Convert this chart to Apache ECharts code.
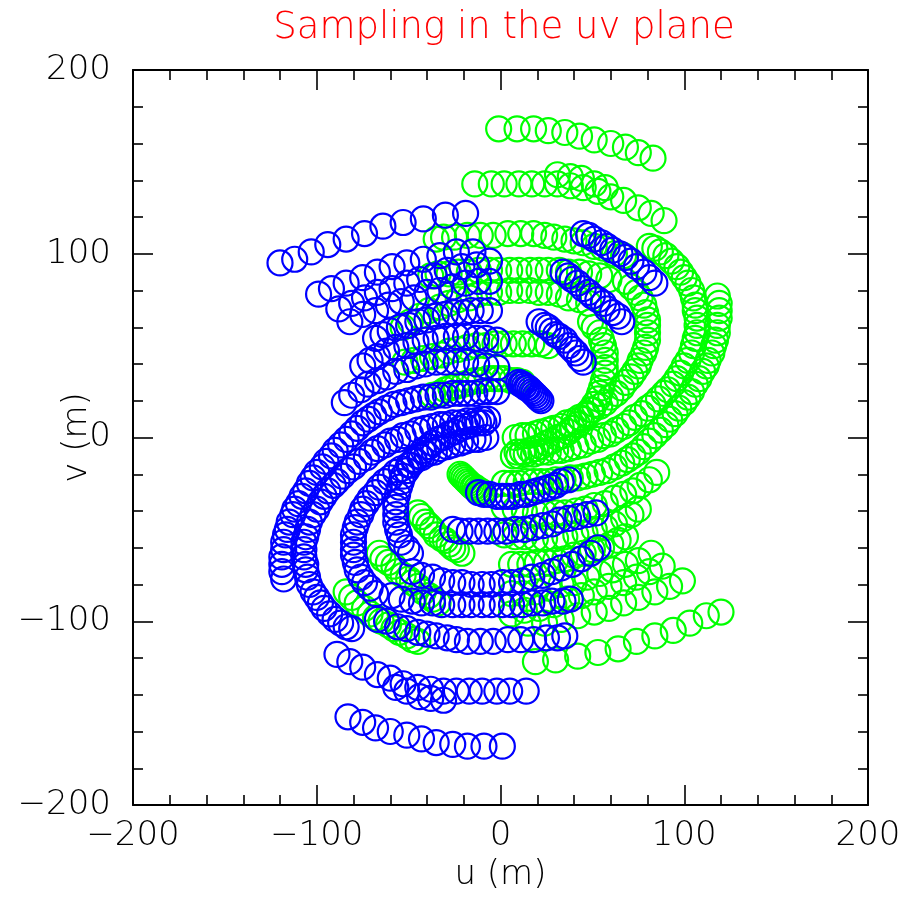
<!DOCTYPE html>
<html>
<head>
<meta charset="utf-8">
<script src="https://cdn.jsdelivr.net/npm/echarts@6/dist/echarts.min.js"></script>
<style>
  html, body { margin: 0; padding: 0; background: #fff; }
  #chart { width: 906px; height: 909px; }
</style>
</head>
<body>
<div id="chart"></div>
<script>
// tick values on both axes
const tickValues = [-200, -100, 0, 100, 200];

// blue tracks (u, v in metres)
const b1 = [[-120,95],[-112,97],[-103,101],[-94,105],[-84,108],[-74,111],[-64,115],[-53,117],[-42,119],[-30,121],[-19,122]];
const b2 = [[-99,78],[-92,81],[-84,84],[-75,87],[-67,90],[-59,93],[-51,95],[-42,97],[-33,99],[-24,101],[-15,101]];
const b3 = [[-88,70],[-81,73],[-74,76],[-67,79],[-59,81],[-51,84],[-44,86],[-36,88],[-29,91],[-21,93],[-13,94],[-6,96]];
const b4 = [[-82,63],[-75,67],[-68,69],[-61,72],[-54,74],[-47,76],[-40,79],[-33,80],[-26,82],[-19,84],[-12,85],[-6,85]];
const b5 = [[-68,54],[-64,56],[-60,58],[-55,60],[-50,61],[-45,63],[-40,64],[-35,66],[-30,67],[-25,68],[-20,68],[-16,69],[-11,69],[-6,69]];
const b6 = [[-75,39],[-71,42],[-67,44],[-62,47],[-57,49],[-51,50],[-46,52],[-41,53],[-35,54],[-30,55],[-24,55],[-19,55],[-13,54],[-8,54],[-2,53]];
const b7 = [[-85,19],[-81,23],[-76,26],[-72,29],[-67,31],[-62,33],[-57,36],[-51,37],[-46,39],[-41,40],[-35,41],[-30,41],[-24,41],[-19,41],[-13,40],[-8,39],[-2,38]];
const s1 = [[-118,-77],[-119,-73],[-119,-69],[-119,-65],[-118,-61],[-118,-57],[-117,-53],[-116,-50],[-115,-46],[-113,-42],[-112,-39],[-110,-36],[-108,-32],[-106,-29],[-104,-25],[-102,-22],[-100,-19],[-97,-16],[-95,-13],[-92,-10],[-90,-7],[-87,-4],[-84,-1],[-81,2],[-78,5],[-75,8],[-72,10],[-69,12],[-66,14],[-62,16],[-58,18],[-54,19],[-50,20],[-46,21],[-42,22],[-38,22],[-34,23],[-30,23],[-26,24],[-22,24],[-18,24],[-14,24],[-10,25],[-6,25],[-2,25]];
const s2 = [[-81,-104],[-84,-103],[-87,-101],[-90,-99],[-93,-96],[-96,-93],[-98,-90],[-100,-87],[-102,-84],[-104,-80],[-105,-76],[-106,-72],[-106,-69],[-107,-65],[-107,-61],[-107,-57],[-106,-54],[-105,-50],[-104,-46],[-102,-42],[-100,-39],[-98,-35],[-96,-32],[-94,-29],[-91,-26],[-89,-24],[-86,-21],[-83,-18],[-80,-16],[-77,-13],[-73,-11],[-70,-8],[-67,-6],[-63,-4],[-60,-2],[-56,-1],[-53,1],[-49,2],[-45,4],[-41,5],[-37,6],[-33,7],[-30,7],[-26,8],[-22,8],[-18,9],[-14,9],[-10,10],[-7,10]];
const s3 = [[-68,-85],[-71,-82],[-74,-79],[-76,-76],[-78,-72],[-79,-68],[-80,-64],[-80,-61],[-80,-57],[-80,-53],[-79,-49],[-78,-46],[-76,-42],[-75,-39],[-73,-36],[-71,-33],[-68,-30],[-66,-27],[-63,-24],[-60,-22],[-57,-19],[-54,-17],[-50,-15],[-47,-13],[-43,-11],[-40,-9],[-36,-8],[-33,-6],[-29,-5],[-26,-4],[-22,-3],[-19,-2],[-15,-1],[-12,-1],[-8,0]];
const s4 = [[-49,-63],[-51,-60],[-54,-57],[-55,-53],[-56,-50],[-57,-46],[-57,-42],[-57,-38],[-57,-35],[-56,-31],[-55,-27],[-54,-24],[-53,-21],[-51,-18],[-49,-15],[-47,-12],[-44,-10],[-42,-7],[-39,-5],[-37,-3],[-34,-1],[-31,0],[-28,2],[-25,3],[-22,5],[-19,6],[-16,7],[-12,8],[-9,8]];
const r1 = [[45,111],[48,110],[51,108],[55,106],[58,104],[61,102],[65,100],[68,98],[71,96],[74,93],[78,90],[81,87],[84,84]];
const r2 = [[34,90],[37,88],[39,86],[42,84],[45,81],[48,79],[50,77],[53,75],[56,73],[58,70],[61,68],[64,66],[66,63]];
const r3 = [[21,63],[24,61],[26,60],[28,58],[30,56],[32,55],[35,53],[37,50],[39,48],[41,46],[43,43],[45,41]];
const r4 = [[10,30],[11,29],[12,29],[13,28],[14,27],[15,27],[16,26],[17,25],[18,24],[19,23],[20,22],[21,21],[22,20]];
const l1 = [[-12,-30],[-9,-31],[-6,-31],[-2,-32],[1,-32],[4,-32],[7,-32],[11,-31],[14,-31],[17,-30],[20,-29],[24,-28],[27,-27],[30,-26],[33,-24],[37,-23]];
const l2 = [[-26,-50],[-22,-51],[-17,-51],[-12,-51],[-7,-51],[-2,-51],[3,-51],[8,-50],[13,-50],[18,-49],[23,-48],[28,-47],[32,-45],[37,-44],[42,-43],[47,-42],[52,-41]];
const l3 = [[-48,-73],[-43,-75],[-37,-76],[-32,-78],[-26,-79],[-21,-79],[-16,-80],[-10,-80],[-5,-80],[1,-79],[6,-79],[12,-78],[17,-76],[23,-75],[28,-73],[33,-71],[39,-69],[44,-66],[49,-63],[53,-60]];
const l4 = [[-59,-86],[-54,-88],[-48,-89],[-43,-90],[-37,-90],[-32,-91],[-26,-91],[-21,-91],[-16,-91],[-10,-91],[-5,-91],[1,-91],[6,-91],[12,-91],[17,-90],[23,-90],[28,-89],[34,-89],[38,-88]];
const l5 = [[-67,-99],[-62,-100],[-56,-103],[-51,-104],[-45,-106],[-40,-107],[-35,-108],[-29,-109],[-24,-110],[-18,-111],[-11,-111],[-4,-111],[4,-110],[11,-110],[18,-110],[25,-109],[31,-109],[35,-108]];
const l6 = [[-89,-118],[-82,-122],[-75,-125],[-67,-129],[-60,-131],[-53,-134],[-45,-136],[-38,-137],[-31,-138],[-24,-138],[-17,-138],[-10,-138],[-2,-138],[5,-138],[14,-138]];
const l6b = [[-57,-136],[-51,-138],[-44,-141],[-38,-142],[-31,-143]];
const l7 = [[-83,-152],[-75,-155],[-68,-158],[-60,-160],[-51,-162],[-43,-164],[-35,-166],[-26,-167],[-18,-168],[-9,-168],[1,-168]];

// green tracks (the conjugate points, read from the other half of the plane)
const g1 = [[120,-95],[112,-97],[103,-101],[94,-105],[84,-108],[74,-111],[64,-115],[53,-117],[42,-119],[30,-121],[19,-122]];
const g2 = [[99,-78],[92,-81],[84,-84],[75,-87],[67,-90],[59,-93],[51,-95],[42,-97],[33,-99],[24,-101],[15,-101]];
const g3 = [[88,-70],[81,-73],[74,-76],[67,-79],[59,-81],[51,-84],[44,-86],[36,-88],[29,-91],[21,-93],[13,-94],[6,-96]];
const g4 = [[82,-63],[75,-67],[68,-69],[61,-72],[54,-74],[47,-76],[40,-79],[33,-80],[26,-82],[19,-84],[12,-85],[6,-85]];
const g5 = [[68,-54],[64,-56],[60,-58],[55,-60],[50,-61],[45,-63],[40,-64],[35,-66],[30,-67],[25,-68],[20,-68],[16,-69],[11,-69],[6,-69]];
const g6 = [[75,-39],[71,-42],[67,-44],[62,-47],[57,-49],[51,-50],[46,-52],[41,-53],[35,-54],[30,-55],[24,-55],[19,-55],[13,-54],[8,-54],[2,-53]];
const g7 = [[85,-19],[81,-23],[76,-26],[72,-29],[67,-31],[62,-33],[57,-36],[51,-37],[46,-39],[41,-40],[35,-41],[30,-41],[24,-41],[19,-41],[13,-40],[8,-39],[2,-38]];
const gs1 = [[118,77],[119,73],[119,69],[119,65],[118,61],[118,57],[117,53],[116,50],[115,46],[113,42],[112,39],[110,36],[108,32],[106,29],[104,25],[102,22],[100,19],[97,16],[95,13],[92,10],[90,7],[87,4],[84,1],[81,-2],[78,-5],[75,-8],[72,-10],[69,-12],[66,-14],[62,-16],[58,-18],[54,-19],[50,-20],[46,-21],[42,-22],[38,-22],[34,-23],[30,-23],[26,-24],[22,-24],[18,-24],[14,-24],[10,-25],[6,-25],[2,-25]];
const gs2 = [[81,104],[84,103],[87,101],[90,99],[93,96],[96,93],[98,90],[100,87],[102,84],[104,80],[105,76],[106,72],[106,69],[107,65],[107,61],[107,57],[106,54],[105,50],[104,46],[102,42],[100,39],[98,35],[96,32],[94,29],[91,26],[89,24],[86,21],[83,18],[80,16],[77,13],[73,11],[70,8],[67,6],[63,4],[60,2],[56,1],[53,-1],[49,-2],[45,-4],[41,-5],[37,-6],[33,-7],[30,-7],[26,-8],[22,-8],[18,-9],[14,-9],[10,-10],[7,-10]];
const gs3 = [[68,85],[71,82],[74,79],[76,76],[78,72],[79,68],[80,64],[80,61],[80,57],[80,53],[79,49],[78,46],[76,42],[75,39],[73,36],[71,33],[68,30],[66,27],[63,24],[60,22],[57,19],[54,17],[50,15],[47,13],[43,11],[40,9],[36,8],[33,6],[29,5],[26,4],[22,3],[19,2],[15,1],[12,1],[8,0]];
const gs4 = [[49,63],[51,60],[54,57],[55,53],[56,50],[57,46],[57,42],[57,38],[57,35],[56,31],[55,27],[54,24],[53,21],[51,18],[49,15],[47,12],[44,10],[42,7],[39,5],[37,3],[34,1],[31,0],[28,-2],[25,-3],[22,-5],[19,-6],[16,-7],[12,-8],[9,-8]];
const gr1 = [[-45,-111],[-48,-110],[-51,-108],[-55,-106],[-58,-104],[-61,-102],[-65,-100],[-68,-98],[-71,-96],[-74,-93],[-78,-90],[-81,-87],[-84,-84]];
const gr2 = [[-34,-90],[-37,-88],[-39,-86],[-42,-84],[-45,-81],[-48,-79],[-50,-77],[-53,-75],[-56,-73],[-58,-70],[-61,-68],[-64,-66],[-66,-63]];
const gr3 = [[-21,-63],[-24,-61],[-26,-60],[-28,-58],[-30,-56],[-32,-55],[-35,-53],[-37,-50],[-39,-48],[-41,-46],[-43,-43],[-45,-41]];
const gr4 = [[-10,-30],[-11,-29],[-12,-29],[-13,-28],[-14,-27],[-15,-27],[-16,-26],[-17,-25],[-18,-24],[-19,-23],[-20,-22],[-21,-21],[-22,-20]];
const gl1 = [[12,30],[9,31],[6,31],[2,32],[-1,32],[-4,32],[-7,32],[-11,31],[-14,31],[-17,30],[-20,29],[-24,28],[-27,27],[-30,26],[-33,24],[-37,23]];
const gl2 = [[26,50],[22,51],[17,51],[12,51],[7,51],[2,51],[-3,51],[-8,50],[-13,50],[-18,49],[-23,48],[-28,47],[-32,45],[-37,44],[-42,43],[-47,42],[-52,41]];
const gl3 = [[48,73],[43,75],[37,76],[32,78],[26,79],[21,79],[16,80],[10,80],[5,80],[-1,79],[-6,79],[-12,78],[-17,76],[-23,75],[-28,73],[-33,71],[-39,69],[-44,66],[-49,63],[-53,60]];
const gl4 = [[59,86],[54,88],[48,89],[43,90],[37,90],[32,91],[26,91],[21,91],[16,91],[10,91],[5,91],[-1,91],[-6,91],[-12,91],[-17,90],[-23,90],[-28,89],[-34,89],[-38,88]];
const gl5 = [[67,99],[62,100],[56,103],[51,104],[45,106],[40,107],[35,108],[29,109],[24,110],[18,111],[11,111],[4,111],[-4,110],[-11,110],[-18,110],[-25,109],[-31,109],[-35,108]];
const gl6 = [[89,118],[82,122],[75,125],[67,129],[60,131],[53,134],[45,136],[38,137],[31,138],[24,138],[17,138],[10,138],[2,138],[-5,138],[-14,138]];
const gl6b = [[57,136],[51,138],[44,141],[38,142],[31,143]];
const gl7 = [[83,152],[75,155],[68,158],[60,160],[51,162],[43,164],[35,166],[26,167],[18,168],[9,168],[-1,168]];

const blueTracks = [b1, b2, b3, b4, b5, b6, b7, s1, s2, s3, s4, r1, r2, r3, r4, l1, l2, l3, l4, l5, l6, l6b, l7];
const greenTracks = [g1, g2, g3, g4, g5, g6, g7, gs1, gs2, gs3, gs4, gr1, gr2, gr3, gr4, gl1, gl2, gl3, gl4, gl5, gl6, gl6b, gl7];

const FONT = 'DejaVu Sans';
const fmt = (v) => (v < 0 ? '\u2212' + Math.abs(v) : String(v));

const frameAxis = (pos, withLabels, name) => {
  return {
    type: 'value',
    position: pos,
    min: tickValues[0],
    max: tickValues[tickValues.length - 1],
    interval: 100,
    axisLine: { show: true, onZero: false, lineStyle: { color: '#000', width: 2 } },
    axisTick: { show: true, inside: true, length: 20, lineStyle: { color: '#000', width: 1.6 } },
    minorTick: { show: true, splitNumber: 5, length: 10, lineStyle: { color: '#000', width: 1.6 } },
    splitLine: { show: false },
    axisLabel: {
      show: withLabels,
      formatter: fmt,
      color: '#000',
      fontFamily: FONT,
      fontWeight: 200,
      fontSize: 34,
      margin: pos === 'left' ? 22 : 14
    },
    name: name,
    nameLocation: 'middle',
    nameGap: pos === 'left' ? 39 : 53,
    nameMoveOverlap: false,
    nameTextStyle: { color: '#000', fontFamily: FONT, fontWeight: 200, fontSize: 34 }
  };
};

const getOption = () => {
  return {
    animation: false,
    backgroundColor: '#fff',
    title: {
      text: 'Sampling in the uv plane',
      left: 499,
      top: 5,
      textAlign: 'center',
      textStyle: { color: '#ff0000', fontFamily: FONT, fontWeight: 200, fontSize: 37 }
    },
    grid: { left: 133, right: 38, top: 70, bottom: 104, outerBoundsMode: 'none', containLabel: false },
    xAxis: [frameAxis('bottom', true, 'u (m)'), frameAxis('top', false, '')],
    yAxis: [frameAxis('left', true, 'v (m)'), frameAxis('right', false, '')],
    series: [
      {
        type: 'scatter',
        xAxisIndex: 0,
        yAxisIndex: 0,
        symbol: 'circle',
        symbolSize: 25,
        itemStyle: { color: 'rgba(0,0,0,0)', borderColor: '#00ff00', borderWidth: 2.2, opacity: 1 },
        data: [].concat(...greenTracks)
      },
      {
        type: 'scatter',
        xAxisIndex: 0,
        yAxisIndex: 0,
        symbol: 'circle',
        symbolSize: 25,
        itemStyle: { color: 'rgba(0,0,0,0)', borderColor: '#0000ff', borderWidth: 2.2, opacity: 1 },
        data: [].concat(...blueTracks)
      }
    ]
  };
};

const initChart = () => {
  const chart = echarts.init(document.getElementById('chart'));
  chart.setOption(getOption());
};

window.addEventListener('load', () => {
  initChart();
});
</script>
</body>
</html>
